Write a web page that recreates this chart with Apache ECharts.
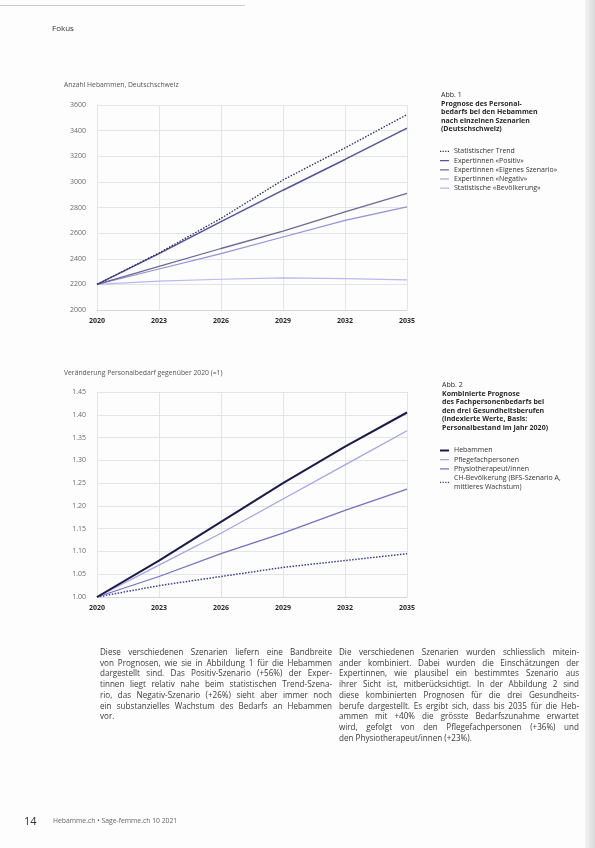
<!DOCTYPE html>
<html><head><meta charset="utf-8">
<script src="https://cdn.jsdelivr.net/npm/echarts@6/dist/echarts.min.js"></script>
<style>
html,body{margin:0;padding:0;background:#fff;}
#page{position:relative;width:595px;height:848px;overflow:hidden;background:#fdfdfd;font-family:"Open Sans","Noto Sans",sans-serif;color:#333;}
#chart{position:absolute;left:0;top:0;width:595px;height:848px;}
.t{position:absolute;white-space:nowrap;}
.cap{position:absolute;font-size:7px;line-height:8.6px;color:#2a2a2a;}
.cap b{font-weight:700;}
.col{position:absolute;font-size:8.1px;line-height:10.7px;color:#3a3a3a;}
.col span{display:block;white-space:nowrap;text-align:justify;text-align-last:justify;}
.col span.last{text-align-last:left;}
</style></head>
<body><div id="page">
<div style="position:absolute;left:0;top:5px;width:245px;height:1px;background:#cfcfcf"></div>
<div style="position:absolute;right:0;top:0;width:10px;height:848px;background:linear-gradient(to right,#f4f4f4,#d9d9d9)"></div>
<div id="chart"></div>
<div class="t" style="left:52px;top:22px;font-size:8px;color:#333">Fokus</div>
<div class="t" style="left:64px;top:80px;font-size:6.8px;color:#555">Anzahl Hebammen, Deutschschweiz</div>
<div class="t" style="left:64px;top:368px;font-size:6.8px;color:#555">Veränderung Personalbedarf gegenüber 2020 (=1)</div>
<div class="cap" style="left:441px;top:91px">Abb. 1<br><b>Prognose des Personal-<br>bedarfs bei den Hebammen<br>nach einzelnen Szenarien<br>(Deutschschweiz)</b></div>
<div class="cap" style="left:442px;top:381px">Abb. 2<br><b>Kombinierte Prognose<br>des Fachpersonenbedarfs bei<br>den drei Gesundheitsberufen<br>(indexierte Werte, Basis:<br>Personalbestand im Jahr 2020)</b></div>
<div class="col" style="left:100px;top:647px;width:232px">
<span>Diese verschiedenen Szenarien liefern eine Bandbreite</span>
<span>von Prognosen, wie sie in Abbildung 1 für die Hebammen</span>
<span>dargestellt sind. Das Positiv-Szenario (+56%) der Exper-</span>
<span>tinnen liegt relativ nahe beim statistischen Trend-Szena-</span>
<span>rio, das Negativ-Szenario (+26%) sieht aber immer noch</span>
<span>ein substanzielles Wachstum des Bedarfs an Hebammen</span>
<span class="last">vor.</span>
</div>
<div class="col" style="left:339px;top:647px;width:240px">
<span>Die verschiedenen Szenarien wurden schliesslich mitein-</span>
<span>ander kombiniert. Dabei wurden die Einschätzungen der</span>
<span>Expertinnen, wie plausibel ein bestimmtes Szenario aus</span>
<span>ihrer Sicht ist, mitberücksichtigt. In der Abbildung 2 sind</span>
<span>diese kombinierten Prognosen für die drei Gesundheits-</span>
<span>berufe dargestellt. Es ergibt sich, dass bis 2035 für die Heb-</span>
<span>ammen mit +40% die grösste Bedarfszunahme erwartet</span>
<span>wird, gefolgt von den Pflegefachpersonen (+36%) und</span>
<span class="last">den Physiotherapeut/innen (+23%).</span>
</div>
<div class="t" style="left:24px;top:813px;font-size:11px;color:#333">14</div>
<div class="t" style="left:53px;top:816px;font-size:6.8px;color:#666">Hebamme.ch • Sage-femme.ch 10 2021</div>
</div>
<script>
// ---- data ----
const years = ['2020','2023','2026','2029','2032','2035'];
// chart 1: number of midwives (German-speaking Switzerland)
const c1Names = ['Statistischer Trend','Expertinnen «Positiv»','Expertinnen «Eigenes Szenario»','Expertinnen «Negativ»','Statistische «Bevölkerung»'];
const trend      = [2200, 2445, 2715, 3015, 3265, 3525];
const positiv    = [2200, 2440, 2690, 2935, 3175, 3420];
const eigenes    = [2200, 2340, 2480, 2615, 2765, 2910];
const negativ    = [2200, 2320, 2440, 2570, 2700, 2805];
const bevoelk    = [2200, 2225, 2240, 2250, 2245, 2235];
const c1Ticks = {min:2000, max:3600, interval:200};
// chart 2: indexed values, base 2020 = 1
const c2Names = ['Hebammen','Pflegefachpersonen','Physiotherapeut/innen','CH-Bevölkerung (BFS-Szenario A,\nmittleres Wachstum)'];
const hebammen   = [1.00, 1.080, 1.165, 1.250, 1.330, 1.405];
const pflege     = [1.00, 1.070, 1.140, 1.215, 1.290, 1.365];
const physio     = [1.00, 1.045, 1.095, 1.140, 1.190, 1.237];
const chBev      = [1.00, 1.025, 1.045, 1.065, 1.080, 1.095];
const c2Ticks = {min:1.00, max:1.45, interval:0.05};

const font = '"Open Sans","Noto Sans",sans-serif';
// legend icons (10 x 3 box)
const ICON_THIN  = 'path://M0,1h10v1.2h-10z M0,0h0.01v3h-0.01z';
const ICON_THICK = 'path://M0,0.6h10v2h-10z M0,0h0.01v3h-0.01z';
const ICON_DOT   = 'path://M0,1h1.3v1.3h-1.3z M2.9,1h1.3v1.3h-1.3z M5.8,1h1.3v1.3h-1.3z M8.7,1h1.3v1.3h-1.3z M0,0h0.01v3h-0.01z';

const chart = echarts.init(document.getElementById('chart'), null, {renderer:'canvas'});
function line(name, data, idx, color, width, type){
  return {name, type:'line', xAxisIndex:idx, yAxisIndex:idx, data, symbol:'none', smooth:false,
    lineStyle:{color, width, type: type||'solid'}, itemStyle:{color}, emphasis:{disabled:true}, z: 3};
}
const grid = (top)=>({left:97, top, width:310, height:205});
const xAx = (gi)=>({type:'category', gridIndex:gi, data:years, boundaryGap:false,
  axisLine:{show:true, lineStyle:{color:'#d5d5dc', width:1}}, axisTick:{show:false},
  axisLabel:{color:'#2b2b2b', fontSize:7, fontWeight:'bold', fontFamily:font, margin:7},
  splitLine:{show:true, lineStyle:{color:'#e3e3ea', width:1}}});
const yAx = (gi, t, fmt)=>({type:'value', gridIndex:gi, min:t.min, max:t.max, interval:t.interval,
  axisLine:{show:false}, axisTick:{show:false},
  axisLabel:{color:'#6a6a6a', fontSize:7, fontFamily:font, margin:11, formatter:fmt},
  splitLine:{show:true, lineStyle:{color:'#e3e3ea', width:1}}});
const legendBase = {orient:'vertical', itemWidth:9, itemHeight:3, symbolKeepAspect:false,
  textStyle:{fontSize:7, color:'#333', fontFamily:font, lineHeight:8.6},
  selectedMode:false, padding:0};
chart.setOption({
  animation:false,
  backgroundColor:'transparent',
  grid:[grid(105), grid(392)],
  xAxis:[xAx(0), xAx(1)],
  yAxis:[yAx(0, c1Ticks, v=>String(v)), yAx(1, c2Ticks, v=>v.toFixed(2))],
  legend:[
    Object.assign({}, legendBase, {left:440, top:147, itemGap:0.6, data:[
      {name:c1Names[0], icon:ICON_DOT}, {name:c1Names[1], icon:ICON_THIN},
      {name:c1Names[2], icon:ICON_THIN}, {name:c1Names[3], icon:ICON_THIN},
      {name:c1Names[4], icon:ICON_THIN}]}),
    Object.assign({}, legendBase, {left:440, top:446, itemGap:0.6, align:'left', data:[
      {name:c2Names[0], icon:ICON_THICK}, {name:c2Names[1], icon:ICON_THIN},
      {name:c2Names[2], icon:ICON_THIN}, {name:c2Names[3], icon:ICON_DOT}]})
  ],
  series:[
    line(c1Names[4], bevoelk, 0, '#bab8ee', 1.2),
    line(c1Names[3], negativ, 0, '#9591d8', 1.2),
    line(c1Names[2], eigenes, 0, '#6d6994', 1.3),
    line(c1Names[1], positiv, 0, '#55529e', 1.5),
    line(c1Names[0], trend, 0, '#2c2a5e', 1.3, [1.5,1.5]),
    line(c2Names[3], chBev, 1, '#3e3b8e', 1.5, [1.5,1.5]),
    line(c2Names[2], physio, 1, '#7471c4', 1.3),
    line(c2Names[1], pflege, 1, '#a6a3e6', 1.3),
    line(c2Names[0], hebammen, 1, '#1c1a4a', 2)
  ]
});
</script>
</body></html>
